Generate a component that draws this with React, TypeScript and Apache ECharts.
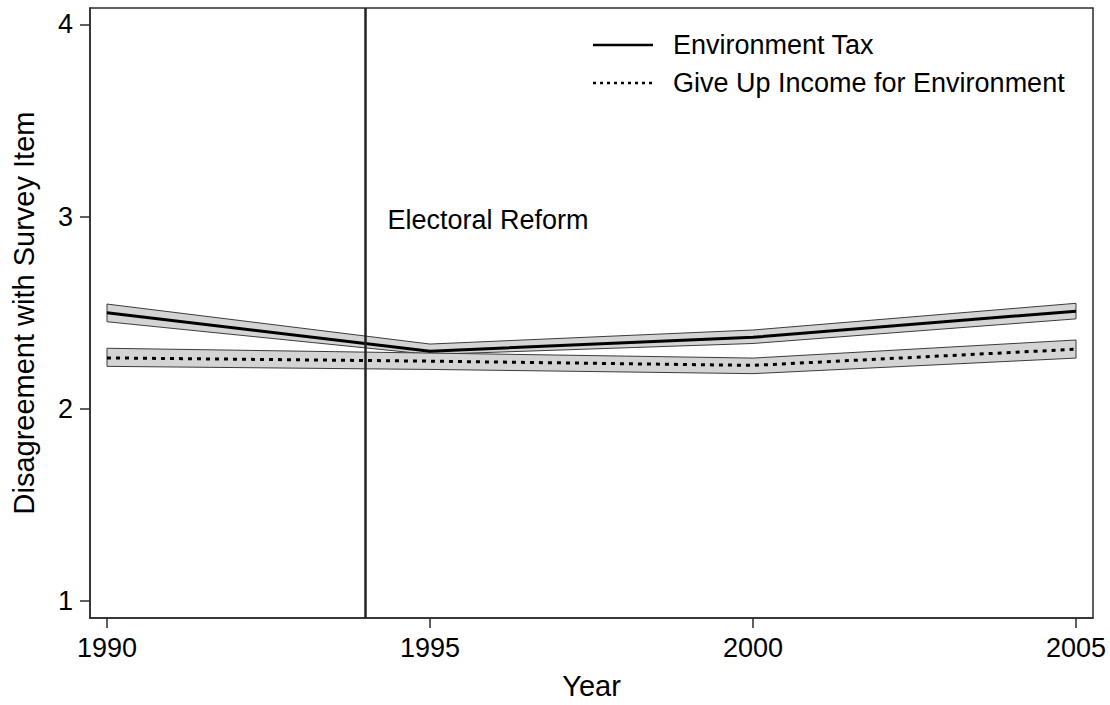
import React, { useEffect, useRef } from "react";
import * as echarts from "echarts";

// Survey years on the x axis
const years = [1990, 1995, 2000, 2005];

// Environment Tax: mean and confidence band
const taxMean = [2.5, 2.3, 2.372, 2.508];
const taxLower = [2.453, 2.283, 2.34, 2.468];
const taxUpper = [2.545, 2.337, 2.41, 2.549];

// Give Up Income for Environment: mean and confidence band
const incomeMean = [2.265, 2.248, 2.226, 2.31];
const incomeLower = [2.221, 2.205, 2.183, 2.264];
const incomeUpper = [2.315, 2.29, 2.264, 2.358];

const xTicks = [1990, 1995, 2000, 2005];
const yTicks = [1, 2, 3, 4];

const reformYear = 1994;
const reformLabel = "Electoral Reform";
const reformLabelY = 2.98;

const seriesNames = ["Environment Tax", "Give Up Income for Environment"];

const FONT = "'Liberation Sans', Arial, Helvetica, sans-serif";
const FS = 27;
const TITLE_FS = 29;
const DOT_DASH = [4, 5];

function bandSeries(lower: number[], upper: number[]) {
  return {
    type: "custom",
    silent: true,
    z: 2,
    data: years.map((y, i) => [y, lower[i], upper[i]]),
    encode: { x: 0, y: [1, 2] },
    renderItem: (params: any, api: any) => {
      if (params.dataIndex !== 0) return null;
      const top = years.map((y, i) => api.coord([y, upper[i]]));
      const bottom = years.map((y, i) => api.coord([y, lower[i]])).reverse();
      return {
        type: "polygon",
        shape: { points: top.concat(bottom) },
        style: { fill: "#d4d4d4", stroke: "#3c3c3c", lineWidth: 1 },
      };
    },
  };
}

// Key in the upper right: a line sample and a name per row
function legendRow(name: string, dash: number[] | null, y: number) {
  return {
    type: "group",
    children: [
      {
        type: "line",
        shape: { x1: 593, y1: y, x2: 653, y2: y },
        style: { stroke: "#000", lineWidth: 2.5, lineDash: dash || undefined },
      },
      {
        type: "text",
        x: 673,
        y,
        style: {
          text: name,
          fontSize: FS,
          fontFamily: FONT,
          fill: "#000",
          verticalAlign: "middle",
          align: "left",
        },
      },
    ],
  };
}

export default function App() {
  const ref = useRef<HTMLDivElement>(null);

  useEffect(() => {
    if (!ref.current) return;
    const chart = echarts.init(ref.current, undefined, { renderer: "svg" });
    chart.setOption({
      animation: false,
      backgroundColor: "#ffffff",
      textStyle: { fontFamily: FONT },
      grid: {
        left: 90,
        right: 17,
        top: 8,
        bottom: 82,
        show: true,
        borderColor: "#2b2b2b",
        borderWidth: 1.5,
      },
      graphic: [
        legendRow(seriesNames[0], null, 45),
        legendRow(seriesNames[1], [3, 4], 83),
      ],
      xAxis: {
        type: "value",
        min: 1989.737,
        max: 2005.263,
        name: "Year",
        nameLocation: "middle",
        nameGap: 53,
        nameTextStyle: { fontSize: TITLE_FS, color: "#000", fontFamily: FONT },
        splitLine: { show: false },
        axisLine: { show: true, lineStyle: { color: "#2b2b2b", width: 1.5 } },
        axisTick: {
          show: true,
          length: 10,
          customValues: xTicks,
          lineStyle: { color: "#2b2b2b", width: 1.5 },
        },
        axisLabel: {
          customValues: xTicks,
          formatter: (v: number) => String(v),
          fontSize: FS,
          color: "#000",
          margin: 16,
          fontFamily: FONT,
        },
      },
      yAxis: {
        type: "value",
        min: 0.912,
        max: 4.085,
        name: "Disagreement with Survey Item",
        nameLocation: "middle",
        nameGap: 52,
        nameTextStyle: { fontSize: TITLE_FS, color: "#000", fontFamily: FONT },
        splitLine: { show: false },
        axisLine: { show: true, lineStyle: { color: "#2b2b2b", width: 1.5 } },
        axisTick: {
          show: true,
          length: 10,
          customValues: yTicks,
          lineStyle: { color: "#2b2b2b", width: 1.5 },
        },
        axisLabel: {
          customValues: yTicks,
          formatter: (v: number) => String(v),
          fontSize: FS,
          color: "#000",
          margin: 17,
          fontFamily: FONT,
        },
      },
      series: [
        bandSeries(taxLower, taxUpper),
        bandSeries(incomeLower, incomeUpper),
        {
          name: seriesNames[0],
          type: "line",
          z: 3,
          symbol: "none",
          data: years.map((y, i) => [y, taxMean[i]]),
          lineStyle: { color: "#000", width: 3, type: "solid" },
          itemStyle: { color: "#000" },
          markLine: {
            silent: true,
            symbol: ["none", "none"],
            label: { show: false },
            lineStyle: { color: "#222", width: 2.5, type: "solid" },
            data: [{ xAxis: reformYear }],
          },
        },
        {
          name: seriesNames[1],
          type: "line",
          z: 3,
          symbol: "none",
          data: years.map((y, i) => [y, incomeMean[i]]),
          lineStyle: { color: "#000", width: 3, type: DOT_DASH },
          itemStyle: { color: "#000" },
        },
        {
          type: "scatter",
          silent: true,
          symbolSize: 0,
          itemStyle: { color: "#000" },
          data: [[reformYear, reformLabelY]],
          label: {
            show: true,
            position: "right",
            distance: 22,
            formatter: reformLabel,
            fontSize: FS,
            color: "#000",
            opacity: 1,
            textBorderWidth: 0,
            fontFamily: FONT,
          },
        },
      ],
    });
    return () => chart.dispose();
  }, []);

  return (
    <div
      ref={ref}
      style={{ position: "fixed", left: 0, top: 0, width: 1110, height: 705 }}
    />
  );
}
